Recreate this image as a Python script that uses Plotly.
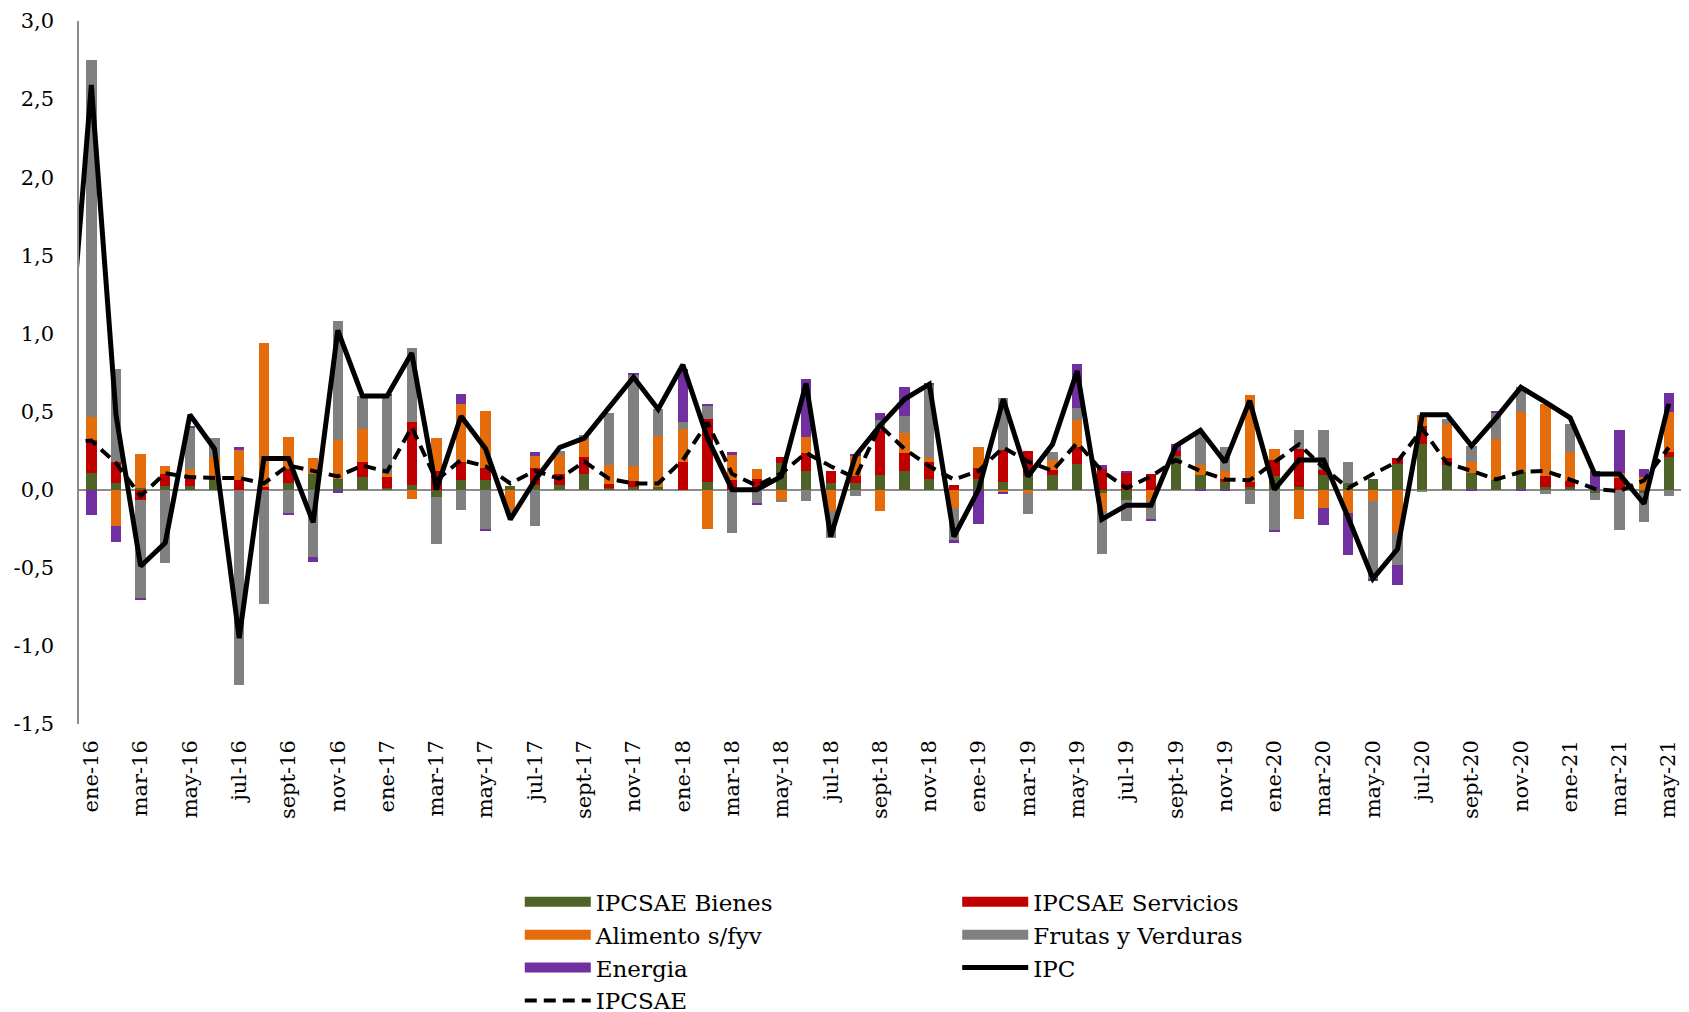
import plotly.graph_objects as go

months = ["ene-16","feb-16","mar-16","abr-16","may-16","jun-16","jul-16","ago-16","sept-16","oct-16","nov-16","dic-16",
          "ene-17","feb-17","mar-17","abr-17","may-17","jun-17","jul-17","ago-17","sept-17","oct-17","nov-17","dic-17",
          "ene-18","feb-18","mar-18","abr-18","may-18","jun-18","jul-18","ago-18","sept-18","oct-18","nov-18","dic-18",
          "ene-19","feb-19","mar-19","abr-19","may-19","jun-19","jul-19","ago-19","sept-19","oct-19","nov-19","dic-19",
          "ene-20","feb-20","mar-20","abr-20","may-20","jun-20","jul-20","ago-20","sept-20","oct-20","nov-20","dic-20",
          "ene-21","feb-21","mar-21","abr-21","may-21"]

bienes = [0.105,0.045,0.01,0.025,0.025,0.065,0.0,0.0,0.045,0.1,0.068,0.08,
          0.01,0.03,-0.05,0.065,0.065,0.025,0.03,0.03,0.1,0.01,0.015,0.015,
          0.0,0.047,0.0,0.01,0.17,0.12,0.043,0.043,0.097,0.12,0.07,0.0,
          0.07,0.047,0.09,0.092,0.167,-0.02,-0.065,0.0,0.215,0.092,0.05,0.02,
          0.09,0.018,0.092,0.04,0.07,0.165,0.29,0.16,0.107,0.065,0.114,0.017,
          0.017,-0.02,0.0,-0.02,0.208]
servicios = [0.21,0.135,-0.065,0.075,0.05,0.0,0.06,0.02,0.09,0.0,0.0,0.095,
             0.07,0.405,0.12,0.11,0.075,0.0,0.11,0.07,0.11,0.025,0.04,0.0,
             0.18,0.403,0.065,0.06,0.04,0.115,0.075,0.042,0.283,0.115,0.106,0.03,
             0.07,0.208,0.16,0.035,0.103,0.135,0.107,0.103,0.032,0.0,0.02,0.03,
             0.1,0.242,0.033,0.0,0.0,0.035,0.12,0.04,0.0,0.0,0.0,0.069,
             0.037,0.0,0.075,0.0,0.032]
alimento = [0.15,-0.23,0.22,0.05,0.055,0.145,0.2,0.92,0.205,0.105,0.252,0.215,
            0.02,-0.06,0.21,0.375,0.365,-0.13,0.075,0.12,0.11,0.125,0.095,0.33,
            0.21,-0.25,0.16,0.065,-0.07,0.105,-0.135,0.13,-0.135,0.13,0.024,-0.115,
            0.13,-0.02,-0.02,0.065,0.176,-0.115,0.0,-0.075,0.0,0.068,0.05,0.555,
            0.07,-0.19,-0.115,-0.15,-0.07,-0.28,0.07,0.22,0.073,0.26,0.386,0.464,
            0.186,0.0,0.03,0.08,0.254]
frutas = [2.285,0.59,-0.63,-0.47,0.265,0.12,-1.25,-0.73,-0.15,-0.43,0.76,0.21,
          0.5,0.475,-0.3,-0.13,-0.25,-0.02,-0.235,0.025,0.03,0.33,0.59,0.17,
          0.045,0.085,-0.28,-0.09,-0.01,-0.07,-0.175,-0.043,0.065,0.105,0.47,-0.205,
          0.0,0.33,-0.135,0.05,0.079,-0.275,-0.135,-0.115,0.0,0.195,0.15,-0.09,
          -0.26,0.12,0.255,0.14,-0.5,-0.2,-0.015,0.03,0.1,0.165,0.16,-0.03,
          0.18,-0.045,-0.26,-0.19,-0.04]
energia = [-0.165,-0.105,-0.01,0.0,0.015,0.0,0.01,0.0,-0.015,-0.03,-0.02,0.0,
           0.01,0.0,0.0,0.06,-0.015,0.0,0.025,0.0,0.0,0.0,0.01,0.0,
           0.335,0.015,0.015,-0.01,0.0,0.37,0.0,0.015,0.045,0.185,0.01,-0.02,
           -0.22,-0.01,0.0,0.0,0.28,0.022,0.01,-0.01,0.043,-0.01,-0.01,0.0,
           -0.01,0.0,-0.11,-0.27,-0.015,-0.13,0.0,0.0,-0.01,0.015,-0.01,0.0,
           0.0,0.118,0.28,0.05,0.126]

# lines include the previous month (dic-15), which lies just outside the axis
ipc_prev = 0.64
ipcsae_prev = 0.30
ipc = [2.59,0.48,-0.49,-0.34,0.48,0.26,-0.95,0.2,0.2,-0.21,1.02,0.6,
       0.6,0.875,0.0,0.47,0.26,-0.19,0.06,0.27,0.33,0.525,0.72,0.515,
       0.8,0.33,0.0,0.0,0.085,0.68,-0.3,0.215,0.41,0.58,0.675,-0.3,
       0.0,0.58,0.085,0.29,0.76,-0.19,-0.1,-0.1,0.28,0.38,0.176,0.57,
       0.0,0.19,0.19,-0.18,-0.57,-0.38,0.48,0.48,0.28,0.46,0.655,0.56,
       0.46,0.1,0.1,-0.09,0.55]
ipcsae = [0.315,0.17,-0.04,0.105,0.08,0.075,0.075,0.04,0.155,0.12,0.085,0.155,
          0.115,0.4,0.06,0.19,0.15,0.04,0.12,0.07,0.18,0.07,0.04,0.04,
          0.19,0.43,0.1,0.025,0.105,0.235,0.15,0.075,0.41,0.26,0.15,0.065,
          0.12,0.27,0.18,0.12,0.3,0.12,0.01,0.085,0.19,0.12,0.065,0.06,
          0.175,0.29,0.14,0.01,0.1,0.18,0.39,0.17,0.12,0.065,0.114,0.12,
          0.065,0.005,-0.01,0.06,0.27]

y_ticks = [-1.5,-1.0,-0.5,0.0,0.5,1.0,1.5,2.0,2.5,3.0]
y_tick_text = ["-1,5","-1,0","-0,5","0,0","0,5","1,0","1,5","2,0","2,5","3,0"]

FONT = "DejaVu Serif"
x = list(range(len(months)))
x_lines = [-1] + x

fig = go.Figure()
bar_series = [
    ("IPCSAE Bienes", bienes, "#4F6228", "legend", 1),
    ("IPCSAE Servicios", servicios, "#C00000", "legend2", 1),
    ("Alimento s/fyv", alimento, "#E46C0A", "legend", 2),
    ("Frutas y Verduras", frutas, "#808080", "legend2", 2),
    ("Energia", energia, "#7030A0", "legend", 3),
]
for name, vals, col, _, _ in bar_series:
    fig.add_trace(go.Bar(x=x, y=vals, name=name, marker=dict(color=col, line=dict(width=0)),
                         width=0.42, showlegend=False))

fig.add_trace(go.Scatter(x=x_lines, y=[ipc_prev] + ipc, name="IPC", mode="lines",
                         line=dict(color="black", width=5), legend="legend2", legendrank=10))
fig.add_trace(go.Scatter(x=x_lines, y=[ipcsae_prev] + ipcsae, name="IPCSAE", mode="lines",
                         line=dict(color="black", width=4, dash="12px,7px"), legend="legend",
                         legendrank=10))

# legend swatches for the bar series
for name, vals, col, leg, rank in bar_series:
    fig.add_trace(go.Scatter(x=[None], y=[None], name=name, mode="lines",
                             line=dict(color=col, width=16), legend=leg, legendrank=rank))

leg_common = dict(xref="container", yref="container", y=0.138, xanchor="left", yanchor="top",
                  orientation="v", traceorder="normal", itemwidth=66,
                  font=dict(family=FONT, size=23), bgcolor="rgba(0,0,0,0)", tracegroupgap=0)

fig.update_layout(
    width=1689, height=1012,
    margin=dict(l=71, r=16, t=13, b=296, autoexpand=False),
    paper_bgcolor="white", plot_bgcolor="white",
    barmode="relative", bargap=0,
    font=dict(family=FONT, size=21, color="black"),
    xaxis=dict(range=[-0.5, 64.5], tickvals=x[::2], ticktext=months[::2], tickangle=-90,
               showgrid=False, zeroline=False, showline=False, ticks="", automargin=False,
               tickfont=dict(family=FONT, size=21), ticklabelstandoff=11),
    yaxis=dict(range=[-1.5, 3.0], tickvals=y_ticks, ticktext=y_tick_text, automargin=False,
               showgrid=False, zeroline=True, zerolinecolor="#8c8c8c", zerolinewidth=1.5,
               showline=True, linecolor="#8c8c8c", linewidth=1.5, ticks="",
               tickfont=dict(family=FONT, size=21), ticklabelstandoff=19),
    legend=dict(x=0.303, **leg_common),
    legend2=dict(x=0.562, **leg_common),
)

fig.write_html("out.html")
